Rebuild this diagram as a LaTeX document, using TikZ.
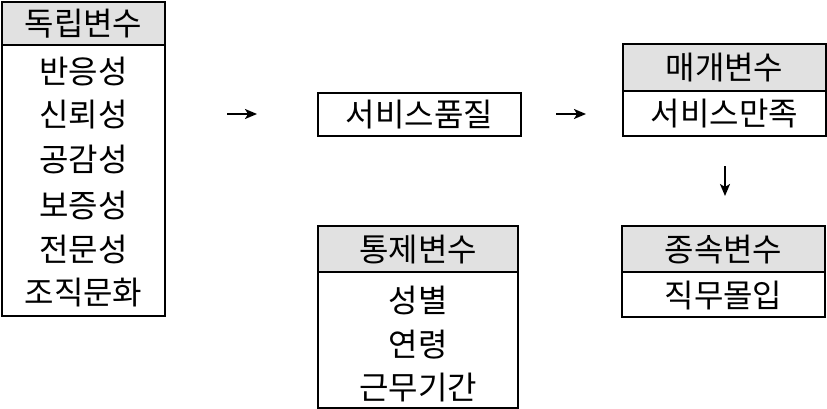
\documentclass[tikz,border=0pt]{standalone}
\usepackage{fontspec}
\newfontfamily\kr{Noto Sans CJK KR}
\usetikzlibrary{arrows.meta}
\definecolor{hdrgray}{RGB}{225,225,225}
\begin{document}
\begin{tikzpicture}[x=1pt,y=-1pt,
  box/.style={draw, line width=1.6pt, inner sep=0pt, outer sep=0pt},
  hdr/.style={box, fill=hdrgray},
  lbl/.style={font=\kr\fontsize{32}{32}\selectfont, inner sep=0pt},
  arr/.style={-{Stealth[length=12pt,width=10pt,inset=3pt]}, line width=2pt}]
\useasboundingbox (0,0) rectangle (827,409);
% independent variables
\node[hdr, minimum width=163pt, minimum height=43pt] (h1) at (83.5,23.5) {};
\node[box, minimum width=163pt, minimum height=271pt] (b1) at (83.5,180.5) {};
\node[lbl] (h1t) at (83.5,24) {독립변수};
\node[lbl] (r1) at (83.5,72) {반응성};
\node[lbl] (r2) at (83.5,115) {신뢰성};
\node[lbl] (r3) at (83.5,159) {공감성};
\node[lbl] (r4) at (83.5,205) {보증성};
\node[lbl] (r5) at (83.5,249) {전문성};
\node[lbl] (r6) at (83.5,293) {조직문화};
% service quality
\node[box, minimum width=203pt, minimum height=43pt] (sq) at (419.5,114.5) {};
\node[lbl] (sqt) at (419.5,115) {서비스품질};
% mediator
\node[hdr, minimum width=203pt, minimum height=47pt] (h2) at (724.5,67.5) {};
\node[box, minimum width=203pt, minimum height=45pt] (b2) at (724.5,113.5) {};
\node[lbl] (h2t) at (724.5,68) {매개변수};
\node[lbl] (b2t) at (724.5,114) {서비스만족};
% control
\node[hdr, minimum width=200pt, minimum height=46pt] (h3) at (418,249) {};
\node[box, minimum width=200pt, minimum height=136pt] (b3) at (418,340) {};
\node[lbl] (h3t) at (418,250) {통제변수};
\node[lbl] (c1) at (418,300) {성별};
\node[lbl] (c2) at (418,345) {연령};
\node[lbl] (c3) at (418,388) {근무기간};
% dependent
\node[hdr, minimum width=203pt, minimum height=46pt] (h4) at (723.5,249) {};
\node[box, minimum width=203pt, minimum height=45pt] (b4) at (723.5,294.5) {};
\node[lbl] (h4t) at (723.5,250) {종속변수};
\node[lbl] (b4t) at (723.5,296) {직무몰입};
% arrows
\coordinate (a1s) at (227,114); \coordinate (a1e) at (257,114);
\coordinate (a2s) at (556,114); \coordinate (a2e) at (586,114);
\coordinate (a3s) at (725,166); \coordinate (a3e) at (725,196);
\draw[arr] (a1s) -- (a1e);
\draw[arr] (a2s) -- (a2e);
\draw[arr] (a3s) -- (a3e);
\end{tikzpicture}
\end{document}
